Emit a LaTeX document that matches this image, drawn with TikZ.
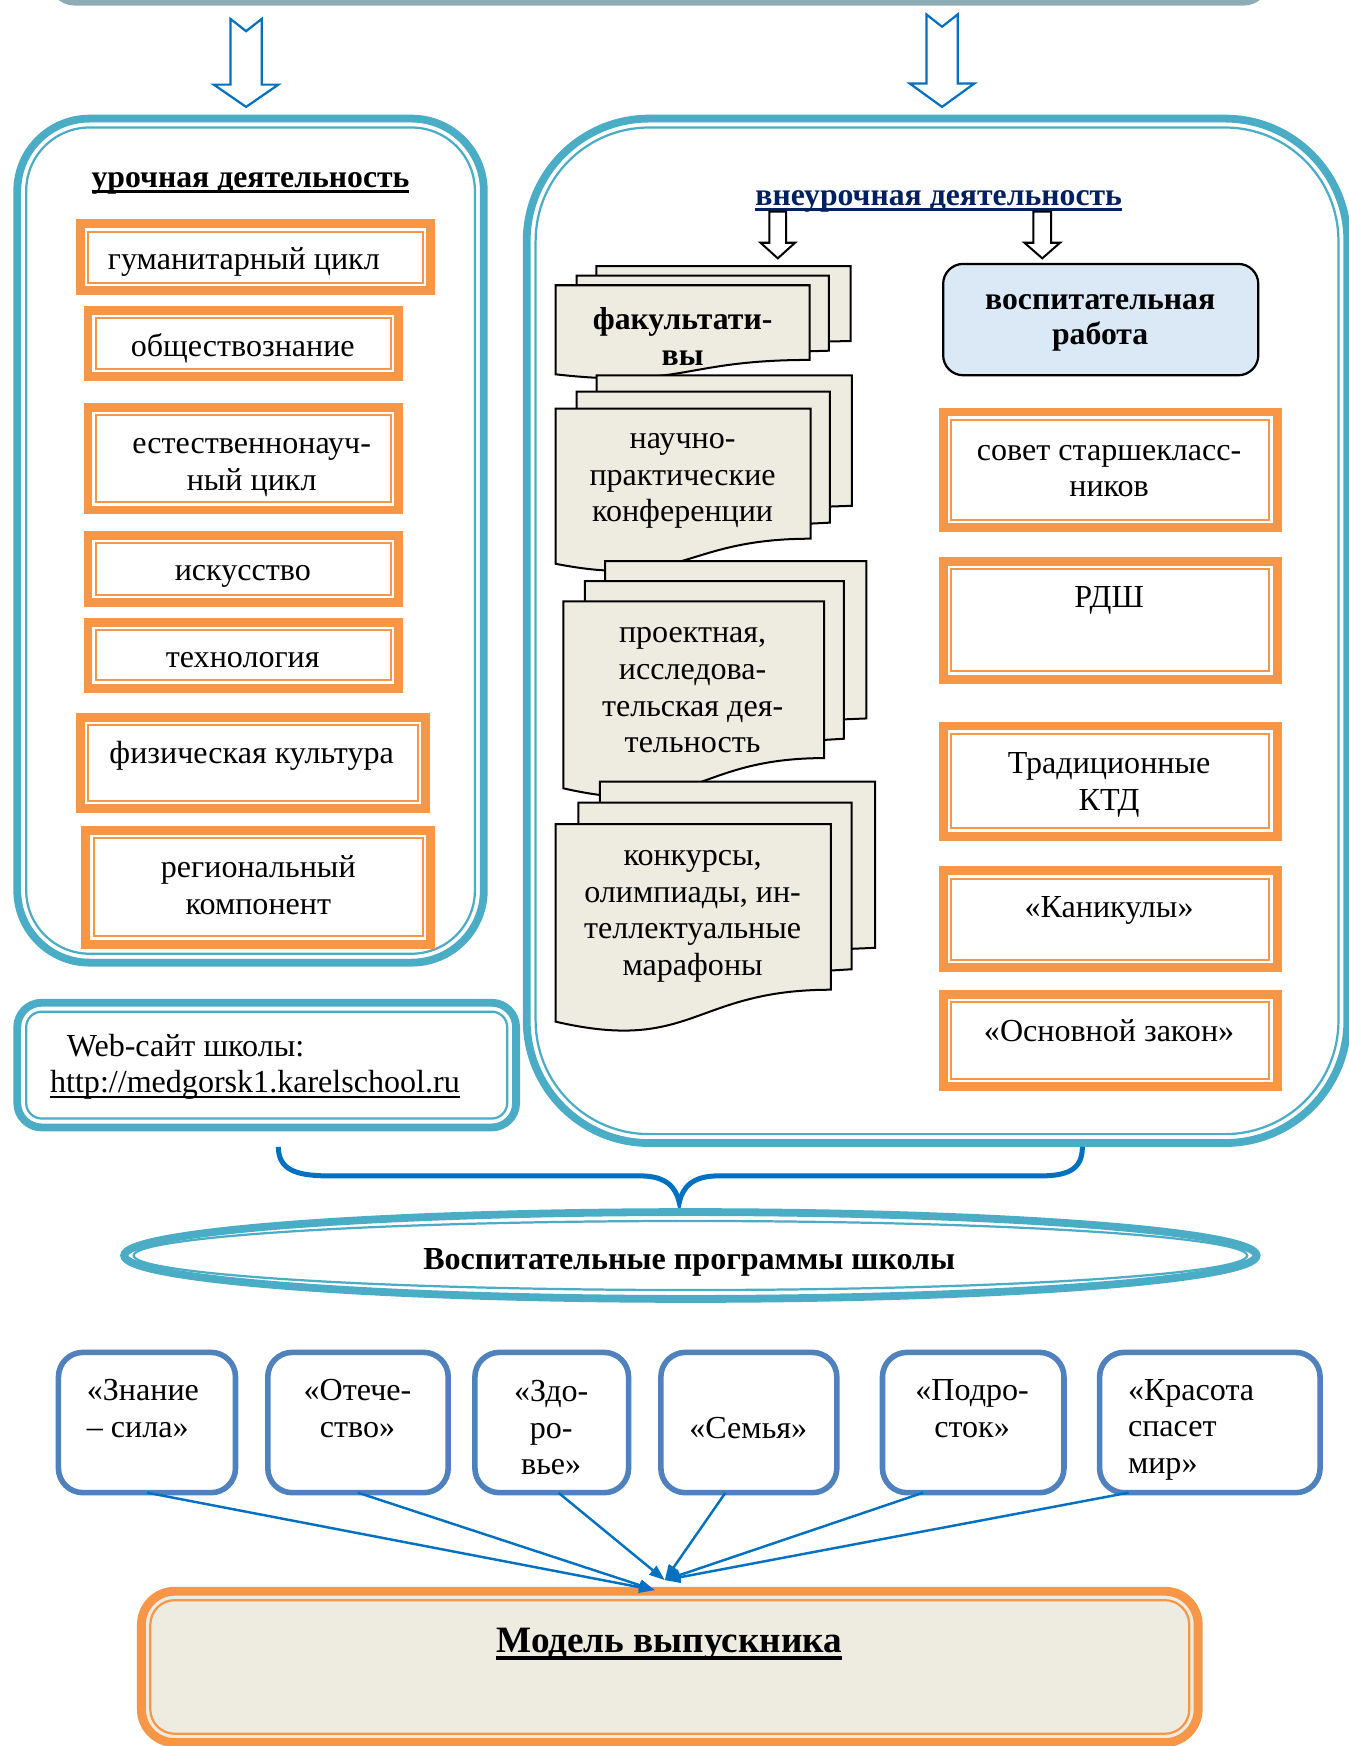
\documentclass[tikz,border=0pt]{standalone}
\usepackage{fontspec}
\setmainfont{Liberation Serif}
\usetikzlibrary{shapes.geometric,arrows.meta,calc}
\definecolor{teal1}{RGB}{75,172,198}
\definecolor{ora}{RGB}{247,150,70}
\definecolor{blue1}{RGB}{0,112,192}
\definecolor{pblue}{RGB}{79,129,189}
\definecolor{docfill}{RGB}{238,236,225}
\definecolor{navy}{RGB}{0,32,96}
\definecolor{lblue}{RGB}{219,232,246}
\definecolor{topgray}{RGB}{140,172,182}
\newcommand\myul[3]{\setbox0=\hbox{#1}\rlap{\rule[-#2]{\wd0}{#3}}\box0}
\newcommand\mdoc[4]{%
 \fill[docfill] ({#1+0.138*#3},{#2+0.084*#4}) -- ({#1+0.138*#3},{#2}) -- ({#1+#3},{#2}) -- ({#1+#3},{#2+0.666*#4}) -- ({#1+0.926*#3},{#2+0.670*#4}) -- ({#1+0.926*#3},{#2+0.084*#4}) -- cycle;
 \draw[docline] ({#1+0.138*#3},{#2+0.084*#4}) -- ({#1+0.138*#3},{#2}) -- ({#1+#3},{#2}) -- ({#1+#3},{#2+0.666*#4}) -- ({#1+0.926*#3},{#2+0.670*#4});
 \fill[docfill] ({#1+0.071*#3},{#2+0.17*#4}) -- ({#1+0.071*#3},{#2+0.084*#4}) -- ({#1+0.926*#3},{#2+0.084*#4}) -- ({#1+0.926*#3},{#2+0.752*#4}) -- ({#1+0.861*#3},{#2+0.757*#4}) -- ({#1+0.861*#3},{#2+0.17*#4}) -- cycle;
 \draw[docline] ({#1+0.071*#3},{#2+0.17*#4}) -- ({#1+0.071*#3},{#2+0.084*#4}) -- ({#1+0.926*#3},{#2+0.084*#4}) -- ({#1+0.926*#3},{#2+0.752*#4}) -- ({#1+0.861*#3},{#2+0.757*#4});
 \filldraw[docline, fill=docfill] ({#1},{#2+0.17*#4}) -- ({#1+0.861*#3},{#2+0.17*#4}) -- ({#1+0.861*#3},{#2+0.834*#4}) .. controls ({#1+0.43*#3},{#2+0.834*#4}) and ({#1+0.43*#3},{#2+1.09*#4}) .. ({#1},{#2+0.962*#4}) -- cycle;
}
\begin{document}
\begin{tikzpicture}[x=1pt,y=-1pt,
  txt/.style={font=\fontsize{28.8}{33}\selectfont, align=center, inner sep=0pt, outer sep=0pt},
  btxt/.style={font=\bfseries\fontsize{28.5}{32}\selectfont, align=center, inner sep=0pt, outer sep=0pt},
  obox/.style 2 args={draw=ora, line width=8, minimum width=#1, minimum height=#2, inner sep=0pt, outer sep=0pt,
    path picture={\draw[ora, line width=1.8] ([shift={(7pt,-7pt)}]path picture bounding box.north west) rectangle ([shift={(-7pt,7pt)}]path picture bounding box.south east);}},
  tbox/.style n args={4}{draw=teal1, line width=7, minimum width=#1, minimum height=#2, rounded corners=#3, inner sep=0pt, outer sep=0pt,
    path picture={\draw[teal1, line width=2, rounded corners=#4] ([shift={(8pt,-8pt)}]path picture bounding box.north west) rectangle ([shift={(-8pt,8pt)}]path picture bounding box.south east);}},
  pbox/.style 2 args={draw=pblue, line width=5, rounded corners=22, minimum width=#1, minimum height=#2, inner sep=0pt, outer sep=0pt},
  docline/.style={draw=black, line width=1.8, line join=miter},
  barrow/.style={draw=blue1, line width=2, fill=white, line join=miter},
  karrow/.style={draw=black, line width=1.8, fill=white, line join=miter},
  conn/.style={draw=blue1, line width=2.2, -{Triangle[length=14pt,width=10pt]}},
  brace/.style={draw=blue1, line width=4.5},
]
\useasboundingbox (0,0) rectangle (1211,1568);
\fill[white] (0,0) rectangle (1211,1568);

% top box
\node[draw=topgray, line width=6, rounded corners=20, minimum width=1090, minimum height=100, inner sep=0pt] (topbox) at (592,-48) {};

% top arrows
\draw[barrow] (207,17) -- (221,28) -- (235,17) -- (235,76) -- (250,76) -- (221,96) -- (192,76) -- (207,76) -- cycle;
\draw[barrow] (832,13) -- (846,24) -- (860,13) -- (860,75) -- (875,75) -- (846,96) -- (817,75) -- (832,75) -- cycle;

% big boxes
\node[tbox={419}{758}{65}{57}] (lbox) at (225,485.5) {};
\node[tbox={737}{920}{110}{102}] (rbox) at (841.5,566.5) {};
\node[tbox={448}{112}{22}{14}] (web) at (239.5,956.5) {};

% left column
\node[btxt] (lt) at (225,165) {\myul{урочная деятельность}{5pt}{2.6pt}};
\node[obox={315}{60}] (l1) at (229.5,231) {};
\node[obox={279}{59}] (l2) at (218.5,308.5) {};
\node[obox={279}{92}] (l3) at (218.5,412) {};
\node[obox={279}{60}] (l4) at (218.5,511) {};
\node[obox={279}{59}] (l5) at (218.5,588.5) {};
\node[obox={310}{82}] (l6) at (227,685) {};
\node[obox={310}{102}] (l7) at (232,797) {};
\node[txt] (l1t) at (219,235) {гуманитарный цикл};
\node[txt] (l2t) at (218,313) {обществознание};
\node[txt] (l3t) at (226,420) {естественнонауч-\\ный цикл};
\node[txt] (l4t) at (218,518) {искусство};
\node[txt] (l5t) at (218,593) {технология};
\node[txt] (l6t) at (226,679) {физическая культура};
\node[txt] (l7t) at (232,795) {региональный\\компонент};

% web
\node[txt, align=left, anchor=west] (webt) at (45,958) {\hspace{15pt}Web-сайт школы:\\\myul{http://medgorsk1.karelschool.ru}{4.5pt}{1.6pt}};

% right title and arrows
\node[btxt, text=navy] (rt) at (843,181) {\myul{внеурочная деятельность}{5pt}{2.6pt}};
\draw[karrow] (691,190) -- (706,190) -- (706,218) -- (714,218) -- (698.5,232) -- (683,218) -- (691,218) -- cycle;
\draw[karrow] (928,190) -- (944,190) -- (944,218) -- (952,218) -- (936,232) -- (920,218) -- (928,218) -- cycle;

% document stacks
\mdoc{499}{239}{265}{101}
\mdoc{499}{337}{266}{176}
\mdoc{506}{504}{272}{212}
\mdoc{499}{702}{287}{224}
\node[btxt] (d1) at (613,302) {факультати-\\вы};
\node[txt] (d2) at (613,432) {научно-\\практические\\конференции};
\node[txt] (d3) at (622,620) {проектная,\\исследова-\\тельская дея-\\тельность};
\node[txt] (d4) at (622,823) {конкурсы,\\олимпиады, ин-\\теллектуальные\\марафоны};

% right column
\node[draw=black, line width=2, fill=lblue, rounded corners=18, minimum width=283, minimum height=100, inner sep=0pt] (vr) at (988.5,287) {};
\node[btxt] (vrt) at (988,290) {воспитательная\\работа};
\node[obox={300}{104}] (r1) at (997,422) {};
\node[obox={300}{106}] (r2) at (997,557) {};
\node[obox={300}{99}] (r3) at (997,701.5) {};
\node[obox={300}{87}] (r4) at (997,825.5) {};
\node[obox={300}{83}] (r5) at (997,934.5) {};
\node[txt] (r1t) at (996,423) {совет старшекласс-\\ников};
\node[txt] (r2t) at (996,539) {РДШ};
\node[txt] (r3t) at (996,705) {Традиционные\\КТД};
\node[txt] (r4t) at (996,818) {«Каникулы»};
\node[txt] (r5t) at (996,926) {«Основной закон»};

% brace
\coordinate (bl) at (250,1030);
\coordinate (br) at (972,1030);
\coordinate (btip) at (610,1080);
\draw[brace] (bl) .. controls (250,1050) and (265,1056) .. (295,1056) -- (575,1056) .. controls (598,1056) and (607,1066) .. (btip) .. controls (613,1066) and (622,1056) .. (645,1056) -- (935,1056) .. controls (962,1056) and (972,1048) .. (br);

% ellipse
\node[draw=teal1, line width=7, fill=white, ellipse, minimum width=1017, minimum height=78, inner sep=0pt,
  path picture={\draw[teal1, line width=2] (path picture bounding box.center) ellipse [x radius=500pt, y radius=31pt];}] (ell) at (620,1127.5) {};
\node[btxt, font=\bfseries\fontsize{28.8}{32}\selectfont] (ellt) at (619,1134) {Воспитательные программы школы};

% program boxes
\node[pbox={159}{126}] (p1) at (132,1277.5) {};
\node[pbox={162}{126}] (p2) at (321.5,1277.5) {};
\node[pbox={138}{126}] (p3) at (495.5,1277.5) {};
\node[pbox={158}{126}] (p4) at (672.5,1277.5) {};
\node[pbox={163}{126}] (p5) at (874,1277.5) {};
\node[pbox={198}{126}] (p6) at (1086.5,1277.5) {};
\node[txt, align=left, anchor=west] (p1t) at (78,1265) {«Знание\\– сила»};
\node[txt] (p2t) at (321,1265) {«Отече-\\ство»};
\node[txt] (p3t) at (495,1282) {«Здо-\\ро-\\вье»};
\node[txt] (p4t) at (672,1282) {«Семья»};
\node[txt] (p5t) at (873,1265) {«Подро-\\сток»};
\node[txt, align=left, anchor=west] (p6t) at (1013,1284) {«Красота\\спасет\\мир»};

% model box
\node[draw=ora, line width=8, fill=docfill, rounded corners=30, minimum width=949, minimum height=136, inner sep=0pt,
  path picture={\draw[ora, line width=2, rounded corners=22] ([shift={(8pt,-8pt)}]path picture bounding box.north west) rectangle ([shift={(-8pt,8pt)}]path picture bounding box.south east);}] (model) at (601.5,1497) {};
\node[btxt, font=\bfseries\fontsize{33.4}{38}\selectfont] (modelt) at (601,1477) {\myul{Модель выпускника}{6pt}{3pt}};

% connectors
\coordinate (c1) at (588,1428);
\coordinate (c2) at (597,1419);
\draw[conn] (p1.south) -- (c1);
\draw[conn] (p2.south) -- (c1);
\draw[conn] ($(p3.south)+(6,0)$) -- (c2);
\draw[conn] ($(p4.south)+(-21,0)$) -- (c2);
\draw[conn] ($(p5.south)+(-45,0)$) -- (c2);
\draw[conn] ($(p6.south)+(-73,0)$) -- (c2);
\end{tikzpicture}
\end{document}
